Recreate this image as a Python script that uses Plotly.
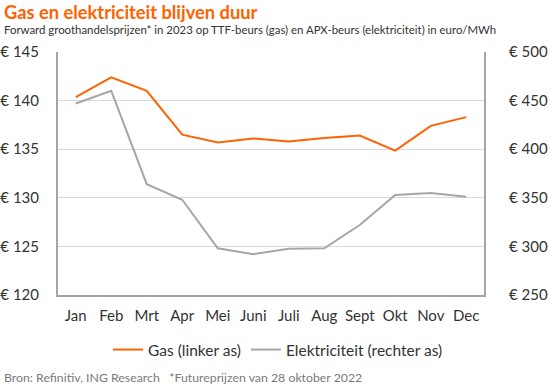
import plotly.graph_objects as go

months = ["Jan", "Feb", "Mrt", "Apr", "Mei", "Juni", "Juli", "Aug", "Sept", "Okt", "Nov", "Dec"]
gas = [140.35, 142.4, 141.0, 136.5, 135.7, 136.1, 135.8, 136.15, 136.4, 134.85, 137.4, 138.3]
elektriciteit = [447, 460, 364, 348, 298, 292, 297.5, 298, 322, 353, 355, 351]

left_ticks = [120, 125, 130, 135, 140, 145]
right_ticks = [250, 300, 350, 400, 450, 500]

ORANGE = "#FF6200"
GREY = "#A6A6A6"
FONT = "Lato"
TXT = "#333333"

L, R, T, B = 58, 66, 52, 93
W, H = 550, 388

fig = go.Figure()
fig.add_trace(go.Scatter(x=months, y=gas, name="Gas (linker as)", mode="lines",
                         line=dict(color=ORANGE, width=2), yaxis="y"))
fig.add_trace(go.Scatter(x=months, y=elektriciteit, name="Elektriciteit (rechter as)", mode="lines",
                         line=dict(color=GREY, width=2), yaxis="y2"))


def px(xp, yp):
    return (xp - L) / (W - L - R), (H - B - yp) / (H - T - B)


anns = []
x0, y0 = px(2, 12)
anns.append(dict(text="<b>Gas en elektriciteit blijven duur</b>", x=x0, y=y0, xref="paper", yref="paper",
                 xanchor="left", yanchor="middle", showarrow=False,
                 font=dict(size=18.3, color=ORANGE, family=FONT)))
x0, y0 = px(2, 29)
anns.append(dict(text="Forward groothandelsprijzen* in 2023 op TTF-beurs (gas) en APX-beurs (elektriciteit) in euro/MWh",
                 x=x0, y=y0, xref="paper", yref="paper", xanchor="left", yanchor="middle", showarrow=False,
                 font=dict(size=11.4, color=TXT, family=FONT)))
x0, y0 = px(2, 377)
anns.append(dict(text="Bron: Refinitiv, ING Research   *Futureprijzen van 28 oktober 2022",
                 x=x0, y=y0, xref="paper", yref="paper", xanchor="left", yanchor="middle", showarrow=False,
                 font=dict(size=12.3, color="#7A7A7A", family=FONT)))

lx, ly = px(278, 350)

fig.update_layout(
    width=W, height=H,
    margin=dict(l=L, r=R, t=T, b=B, autoexpand=False),
    paper_bgcolor="white", plot_bgcolor="white",
    font=dict(family=FONT, color=TXT, size=15),
    showlegend=True,
    legend=dict(orientation="h", x=lx, xanchor="center", y=ly, yanchor="middle",
                font=dict(size=15.5, color=TXT), tracegroupgap=0),
    xaxis=dict(range=[-0.5, 11.5], showline=True, linecolor="#A6A6A6", linewidth=2, showgrid=False,
               ticks="", tickfont=dict(size=15, color=TXT), ticklabelstandoff=6,
               automargin=False),
    yaxis=dict(range=[120, 145], tickvals=left_ticks, ticktext=[f"€ {v}" for v in left_ticks],
               showline=True, linecolor="#A6A6A6", linewidth=2, showgrid=True,
               gridcolor="#D9D9D9", gridwidth=1, zeroline=False,
               tickfont=dict(size=15, color=TXT), ticklabelstandoff=14, automargin=False),
    yaxis2=dict(range=[250, 500], tickvals=right_ticks, ticktext=[f"€ {v}" for v in right_ticks],
                overlaying="y", side="right", showline=True, linecolor="#A6A6A6", linewidth=2,
                showgrid=False, zeroline=False,
                tickfont=dict(size=15, color=TXT), ticklabelstandoff=20, automargin=False),
    annotations=anns,
)

fig.write_html("out.html", config={"displayModeBar": False},
               post_script="document.body.style.margin='0';document.body.style.padding='0';")
